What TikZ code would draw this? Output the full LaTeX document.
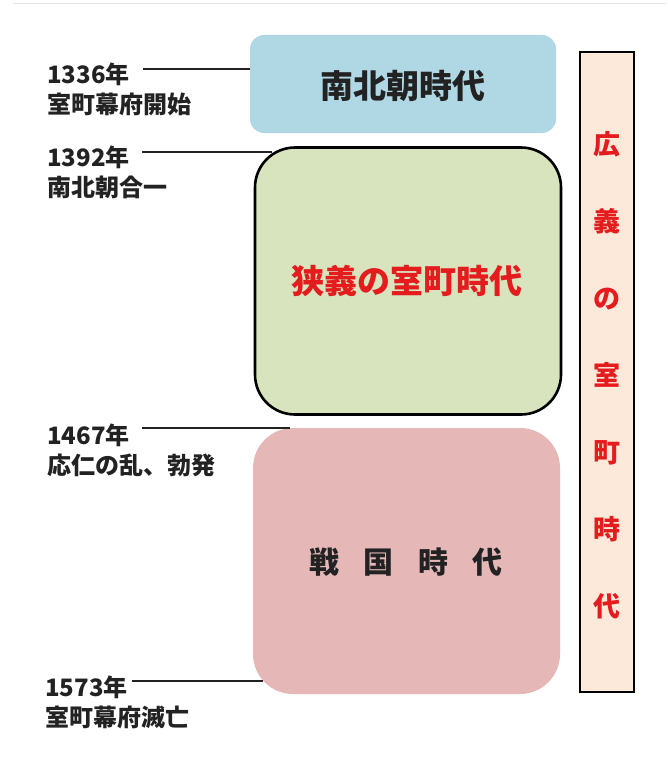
\documentclass[tikz,border=0pt]{standalone}
\usepackage{fontspec}
\setmainfont{Noto Sans CJK JP}
\definecolor{blueF}{RGB}{176,215,228}
\definecolor{greenF}{RGB}{216,228,190}
\definecolor{pinkF}{RGB}{229,183,183}
\definecolor{peachF}{RGB}{253,233,218}
\definecolor{redT}{RGB}{228,28,30}
\definecolor{darkT}{RGB}{34,34,34}
\tikzset{
  x=1pt, y=-1pt,
  period/.style={inner sep=0pt, outer sep=0pt, rounded corners=40pt},
  datelabel/.style={anchor=west, align=left, inner sep=0pt, text=darkT,
    font=\fontsize{24}{30}\selectfont\bfseries},
  tick/.style={line width=2.9pt, darkT},
  bigtext/.style={font=\fontsize{33}{36}\selectfont\bfseries}
}
\begin{document}
\begin{tikzpicture}
\useasboundingbox (0,0) rectangle (667,757);
\fill[white] (0,0) rectangle (667,757);
\draw[black!10, line width=1pt] (13,4) -- (667,4);

% period boxes
\node[period, rounded corners=14pt, fill=blueF, minimum width=306pt, minimum height=98pt]
  (nb) at (403,84) {};
\node[period, fill=greenF, draw=black, line width=2.6pt, minimum width=306pt, minimum height=267pt]
  (kyogi) at (408,281) {};
\node[period, fill=pinkF, minimum width=307pt, minimum height=266pt]
  (sengoku) at (406.5,561) {};
\node[inner sep=0pt, fill=peachF, draw=black, line width=2.6pt, minimum width=54pt, minimum height=640pt]
  (kogi) at (607,372) {};

% texts in boxes
\node[bigtext, text=darkT] (nbt) at (403,86) {南北朝時代};
\node[bigtext, text=redT] (kyogit) at (407,281) {狭義の室町時代};
\node[font=\fontsize{30}{34}\selectfont\bfseries, text=darkT] (sengokut) at (406,562)
  {戦\hspace{24.5pt}国\hspace{24.5pt}時\hspace{24.5pt}代};
\node[align=center, text=redT, font=\fontsize{27}{77}\selectfont\bfseries] (kogit) at (607,375)
  {広\\義\\の\\室\\町\\時\\代};

% date labels
\node[datelabel] (d1336) at (47,89) {1336年\\室町幕府開始};
\node[datelabel] (d1392) at (47,172) {1392年\\南北朝合一};
\node[datelabel] (d1467) at (47,450) {1467年\\応仁の乱、勃発};
\node[datelabel] (d1573) at (45,702) {1573年\\室町幕府滅亡};

% connectors
\coordinate (s1336) at (143,69);
\coordinate (e1336) at (nb.west |- s1336);
\coordinate (s1392) at (142,152);
\coordinate (e1392) at (272,152);
\coordinate (s1467) at (142,428);
\coordinate (e1467) at (290,428);
\coordinate (s1573) at (132,681);
\coordinate (e1573) at (263,681);
\draw[tick] (s1336) -- (e1336);
\draw[tick] (s1392) -- (e1392);
\draw[tick] (s1467) -- (e1467);
\draw[tick] (s1573) -- (e1573);
\end{tikzpicture}
\end{document}
